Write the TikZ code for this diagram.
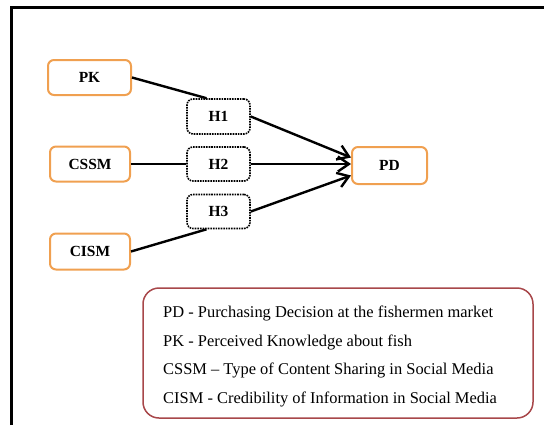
\documentclass[tikz,border=0pt]{standalone}
\usepackage{fontspec}
\setmainfont{Liberation Serif}
\usetikzlibrary{arrows.meta}
\definecolor{boxorange}{HTML}{F0A050}
\definecolor{legendred}{HTML}{A8474A}
\tikzset{
  varbox/.style={draw=boxorange, line width=2bp, rounded corners=6bp, fill=white,
    minimum width=80bp, minimum height=35bp, inner sep=0pt, font=\fontsize{15.5}{18}\selectfont\bfseries},
  hypbox/.style={draw=black, densely dotted, line width=1.6bp, rounded corners=6bp, fill=white,
    minimum width=63bp, minimum height=34bp, inner sep=0pt, font=\fontsize{15.5}{18}\selectfont\bfseries},
  link/.style={line width=2.4bp, black},
  arrowlink/.style={link, -{Straight Barb[length=11bp,width=15bp,line width=2.4bp]}},
  legendline/.style={anchor=base west, inner sep=0pt, font=\fontsize{16.5}{19}\selectfont},
}
\begin{document}
\begin{tikzpicture}[x=1bp, y=-1bp]
\useasboundingbox (0,0) rectangle (544,425);
% frame edges
\draw[line width=3bp] (11,425) -- (11,7.5) -- (544,7.5);

% variables
\node[varbox, minimum width=83bp] (PK) at (89.5,77.5) {PK};
\node[varbox] (CSSM) at (90,164) {CSSM};
\node[varbox, minimum height=36bp] (CISM) at (90,251.5) {CISM};
\node[varbox, minimum width=75bp, minimum height=37bp] (PD) at (389.5,165.5) {PD};

% hypotheses
\node[hypbox, minimum height=35bp] (H1) at (218.5,116.5) {H1};
\node[hypbox] (H2) at (218.5,164) {H2};
\node[hypbox] (H3) at (218.5,211.5) {H3};

% paths
\draw[link] (PK.east) -- ([xshift=-12bp]H1.north);
\draw[link] (CSSM.east) -- (H2.west);
\draw[link] (CISM.east) -- ([xshift=-12bp]H3.south);
\draw[arrowlink] (H1.east) -- ([yshift=8bp]PD.west);
\draw[arrowlink] (H2.east) -- (H2.east -| PD.west);
\draw[arrowlink] (H3.east) -- ([yshift=-10bp]PD.west);

% legend
\node[draw=legendred, line width=1.5bp, rounded corners=16bp, minimum width=390bp,
      minimum height=130bp, inner sep=0pt] (legend) at (338,353) {};
\node[legendline] (l1) at (163,317) {PD - Purchasing Decision at the fishermen market};
\node[legendline] (l2) at (163,346) {PK - Perceived Knowledge about fish};
\node[legendline] (l3) at (163,374) {CSSM – Type of Content Sharing in Social Media};
\node[legendline] (l4) at (163,403) {CISM - Credibility of Information in Social Media};
\end{tikzpicture}
\end{document}
